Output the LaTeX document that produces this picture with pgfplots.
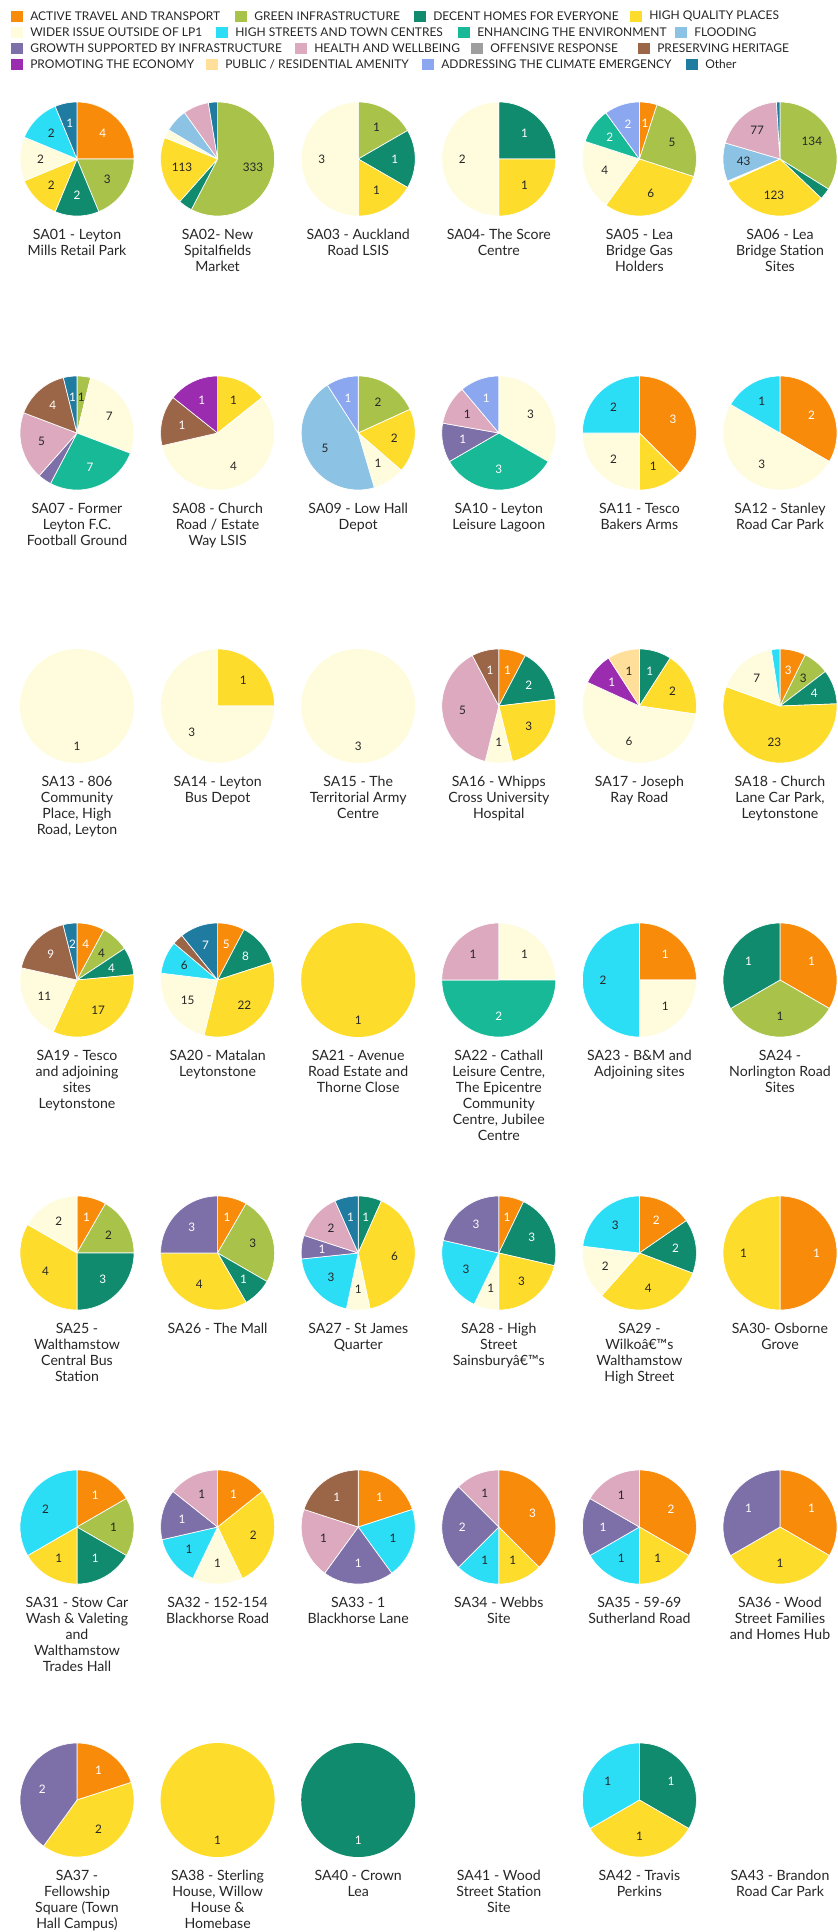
\documentclass[border=0pt]{standalone}
\usepackage{pgfplots}
\pgfplotsset{compat=1.18}
\usepackage{fontspec}
\setmainfont{Lato}

\definecolor{cAT}{HTML}{F98B0B}
\definecolor{cGI}{HTML}{A8C24A}
\definecolor{cDH}{HTML}{108B6E}
\definecolor{cHQ}{HTML}{FDDC2C}
\definecolor{cWI}{HTML}{FEFCDC}
\definecolor{cHS}{HTML}{2CDDF6}
\definecolor{cEE}{HTML}{17B997}
\definecolor{cFL}{HTML}{8CC2E3}
\definecolor{cGS}{HTML}{7D6FA7}
\definecolor{cHW}{HTML}{DCA9BF}
\definecolor{cOR}{HTML}{9E9E9E}
\definecolor{cPH}{HTML}{9B6548}
\definecolor{cPE}{HTML}{9B2CAF}
\definecolor{cPA}{HTML}{FFDF9A}
\definecolor{cCE}{HTML}{8BA7F0}
\definecolor{cOT}{HTML}{1F7BA0}
\definecolor{labc}{HTML}{262626}
\def\txtAT{white}\def\txtGI{labc}\def\txtDH{white}\def\txtHQ{labc}
\def\txtWI{labc}\def\txtHS{labc}\def\txtEE{white}\def\txtFL{labc}
\def\txtGS{white}\def\txtHW{labc}\def\txtOR{white}\def\txtPH{white}
\def\txtPE{white}\def\txtPA{labc}\def\txtCE{white}\def\txtOT{white}

\newcommand\numfont{\fontsize{8.8}{10}\selectfont}
\newcommand\labfont{\fontsize{10.6}{12}\selectfont}
\newcommand\legfont{\fontsize{9}{10}\selectfont}
\def\R{57}

% #1 = centre x, #2 = centre y, #3 = list key/value/showlabel
\newcommand\pie[3]{%
  \gdef\pietot{0}%
  \foreach \k/\v/\s in {#3}{\pgfmathparse{\pietot+\v}\xdef\pietot{\pgfmathresult}}%
  \gdef\piecum{0}%
  \foreach \k/\v/\s in {#3}{%
    \pgfmathsetmacro\aA{\piecum}%
    \pgfmathsetmacro\aB{\piecum+360*(\v/\pietot)}%
    \pgfmathsetmacro\aM{(\aA+\aB)/2}%
    \pgfmathsetmacro\lx{#1+0.64*\R*sin(\aM)}%
    \pgfmathsetmacro\ly{#2-0.64*\R*cos(\aM)}%
    \xdef\piecum{\aB}%
    \ifdim\v pt=\pietot pt
      \edef\temp{\noexpand\addplot[draw=none, fill=c\k, domain=0:360, samples=90] ({#1+\R*sin(x)},{#2-\R*cos(x)}) -- cycle;}%
      \pgfmathsetmacro\ly{#2+0.7*\R}%
    \else
      \edef\temp{\noexpand\addplot[draw=white, line width=0.5pt, line join=round, fill=c\k, domain=\aA:\aB, samples=45] ({#1+\R*sin(x)},{#2-\R*cos(x)}) -- (axis cs:#1,#2) -- cycle;}%
    \fi
    \temp
    \ifnum\s=1
      \edef\temp{\noexpand\node[font=\noexpand\numfont, text=\csname txt\k\endcsname, inner sep=0pt] at (axis cs:\lx,\ly) {\v};}%
      \temp
    \fi
  }%
}
\newcommand\lab[3]{\node[anchor=north, align=center, inner sep=0pt, font=\labfont, text=labc] at (axis cs:#1,#2) {#3};}
\newcommand\leg[4]{% x, y, colour, text
  \fill[#3] (axis cs:#1,#2-5.5) rectangle (axis cs:#1+12,#2+5.5);
  \node[anchor=west, inner sep=0pt, font=\legfont, text=labc] at (axis cs:#1+19,#2) {#4};}

\begin{document}
\begin{tikzpicture}
\begin{axis}[scale only axis, width=627.75pt, height=1449pt,
  xmin=0, xmax=837, ymin=0, ymax=1932, y dir=reverse,
  hide axis, clip=false]
\path (axis cs:0,0) rectangle (axis cs:837,1932);

% legend
\leg{11}{16}{cAT}{ACTIVE TRAVEL AND TRANSPORT}
\leg{235}{16}{cGI}{GREEN INFRASTRUCTURE}
\leg{414}{16}{cDH}{DECENT HOMES FOR EVERYONE}
\leg{630}{16}{cHQ}{HIGH QUALITY PLACES}
\leg{11}{32}{cWI}{WIDER ISSUE OUTSIDE OF LP1}
\leg{216}{32}{cHS}{HIGH STREETS AND TOWN CENTRES}
\leg{458}{32}{cEE}{ENHANCING THE ENVIRONMENT}
\leg{675}{32}{cFL}{FLOODING}
\leg{11}{48}{cGS}{GROWTH SUPPORTED BY INFRASTRUCTURE}
\leg{295}{48}{cHW}{HEALTH AND WELLBEING}
\leg{471}{48}{cOR}{OFFENSIVE RESPONSE}
\leg{638}{48}{cPH}{PRESERVING HERITAGE}
\leg{11}{64}{cPE}{PROMOTING THE ECONOMY}
\leg{206}{64}{cPA}{PUBLIC / RESIDENTIAL AMENITY}
\leg{422}{64}{cCE}{ADDRESSING THE CLIMATE EMERGENCY}
\leg{686}{64}{cOT}{Other}

% row 1
\pie{77}{159}{AT/4/1, GI/3/1, DH/2/1, HQ/2/1, WI/2/1, HS/2/1, OT/1/1}
\pie{217.6}{159}{GI/333/1, DH/23/0, HQ/113/1, WI/14/0, FL/38/0, HW/42/0, OT/15/0}
\pie{358.2}{159}{GI/1/1, DH/1/1, HQ/1/1, WI/3/1}
\pie{498.8}{159}{DH/1/1, HQ/1/1, WI/2/1}
\pie{639.4}{159}{AT/1/1, GI/5/1, HQ/6/1, WI/4/1, EE/2/1, CE/2/1}
\pie{780}{159}{GI/134/1, DH/13/0, HQ/123/1, WI/2/0, FL/43/1, HW/77/1, OT/4/0}
\lab{77}{229}{SA01 - Leyton\\Mills Retail Park}
\lab{217.6}{229}{SA02- New\\Spitalfields\\Market}
\lab{358.2}{229}{SA03 - Auckland\\Road LSIS}
\lab{498.8}{229}{SA04- The Score\\Centre}
\lab{639.4}{229}{SA05 - Lea\\Bridge Gas\\Holders}
\lab{780}{229}{SA06 - Lea\\Bridge Station\\Sites}

% row 2
\pie{77}{433}{GI/1/1, WI/7/1, EE/7/1, GS/1/0, HW/5/1, PH/4/1, OT/1/1}
\pie{217.6}{433}{HQ/1/1, WI/4/1, PH/1/1, PE/1/1}
\pie{358.2}{433}{GI/2/1, HQ/2/1, WI/1/1, FL/5/1, CE/1/1}
\pie{498.8}{433}{WI/3/1, EE/3/1, GS/1/1, HW/1/1, CE/1/1}
\pie{639.4}{433}{AT/3/1, HQ/1/1, WI/2/1, HS/2/1}
\pie{780}{433}{AT/2/1, WI/3/1, HS/1/1}
\lab{77}{503}{SA07 - Former\\Leyton F.C.\\Football Ground}
\lab{217.6}{503}{SA08 - Church\\Road / Estate\\Way LSIS}
\lab{358.2}{503}{SA09 - Low Hall\\Depot}
\lab{498.8}{503}{SA10 - Leyton\\Leisure Lagoon}
\lab{639.4}{503}{SA11 - Tesco\\Bakers Arms}
\lab{780}{503}{SA12 - Stanley\\Road Car Park}

% row 3
\pie{77}{706}{WI/1/1}
\pie{217.6}{706}{HQ/1/1, WI/3/1}
\pie{358.2}{706}{WI/3/1}
\pie{498.8}{706}{AT/1/1, DH/2/1, HQ/3/1, WI/1/1, HW/5/1, PH/1/1}
\pie{639.4}{706}{DH/1/1, HQ/2/1, WI/6/1, PE/1/1, PA/1/1}
\pie{780}{706}{AT/3/1, GI/3/1, DH/4/1, HQ/23/1, WI/7/1, HS/1/0}
\lab{77}{776}{SA13 - 806\\Community\\Place, High\\Road, Leyton}
\lab{217.6}{776}{SA14 - Leyton\\Bus Depot}
\lab{358.2}{776}{SA15 - The\\Territorial Army\\Centre}
\lab{498.8}{776}{SA16 - Whipps\\Cross University\\Hospital}
\lab{639.4}{776}{SA17 - Joseph\\Ray Road}
\lab{780}{776}{SA18 - Church\\Lane Car Park,\\Leytonstone}

% row 4
\pie{77}{980}{AT/4/1, GI/4/1, DH/4/1, HQ/17/1, WI/11/1, PH/9/1, OT/2/1}
\pie{217.6}{980}{AT/5/1, DH/8/1, HQ/22/1, WI/15/1, HS/6/1, PH/2/0, OT/7/1}
\pie{358.2}{980}{HQ/1/1}
\pie{498.8}{980}{WI/1/1, EE/2/1, HW/1/1}
\pie{639.4}{980}{AT/1/1, WI/1/1, HS/2/1}
\pie{780}{980}{AT/1/1, GI/1/1, DH/1/1}
\lab{77}{1050}{SA19 - Tesco\\and adjoining\\sites\\Leytonstone}
\lab{217.6}{1050}{SA20 - Matalan\\Leytonstone}
\lab{358.2}{1050}{SA21 - Avenue\\Road Estate and\\Thorne Close}
\lab{498.8}{1050}{SA22 - Cathall\\Leisure Centre,\\The Epicentre\\Community\\Centre, Jubilee\\Centre}
\lab{639.4}{1050}{SA23 - B\&M and\\Adjoining sites}
\lab{780}{1050}{SA24 -\\Norlington Road\\Sites}

% row 5
\pie{77}{1253}{AT/1/1, GI/2/1, DH/3/1, HQ/4/1, WI/2/1}
\pie{217.6}{1253}{AT/1/1, GI/3/1, DH/1/1, HQ/4/1, GS/3/1}
\pie{358.2}{1253}{DH/1/1, HQ/6/1, WI/1/1, HS/3/1, GS/1/1, HW/2/1, OT/1/1}
\pie{498.8}{1253}{AT/1/1, DH/3/1, HQ/3/1, WI/1/1, HS/3/1, GS/3/1}
\pie{639.4}{1253}{AT/2/1, DH/2/1, HQ/4/1, WI/2/1, HS/3/1}
\pie{780}{1253}{AT/1/1, HQ/1/1}
\lab{77}{1323}{SA25 -\\Walthamstow\\Central Bus\\Station}
\lab{217.6}{1323}{SA26 - The Mall}
\lab{358.2}{1323}{SA27 - St James\\Quarter}
\lab{498.8}{1323}{SA28 - High\\Street\\Sainsburyâ€™s}
\lab{639.4}{1323}{SA29 -\\Wilkoâ€™s\\Walthamstow\\High Street}
\lab{780}{1323}{SA30- Osborne\\Grove}

% row 6
\pie{77}{1527}{AT/1/1, GI/1/1, DH/1/1, HQ/1/1, HS/2/1}
\pie{217.6}{1527}{AT/1/1, HQ/2/1, WI/1/1, HS/1/1, GS/1/1, HW/1/1}
\pie{358.2}{1527}{AT/1/1, HS/1/1, GS/1/1, HW/1/1, PH/1/1}
\pie{498.8}{1527}{AT/3/1, HQ/1/1, HS/1/1, GS/2/1, HW/1/1}
\pie{639.4}{1527}{AT/2/1, HQ/1/1, HS/1/1, GS/1/1, HW/1/1}
\pie{780}{1527}{AT/1/1, HQ/1/1, GS/1/1}
\lab{77}{1597}{SA31 - Stow Car\\Wash \& Valeting\\and\\Walthamstow\\Trades Hall}
\lab{217.6}{1597}{SA32 - 152-154\\Blackhorse Road}
\lab{358.2}{1597}{SA33 - 1\\Blackhorse Lane}
\lab{498.8}{1597}{SA34 - Webbs\\Site}
\lab{639.4}{1597}{SA35 - 59-69\\Sutherland Road}
\lab{780}{1597}{SA36 - Wood\\Street Families\\and Homes Hub}

% row 7
\pie{77}{1800}{AT/1/1, HQ/2/1, GS/2/1}
\pie{217.6}{1800}{HQ/1/1}
\pie{358.2}{1800}{DH/1/1}
\pie{639.4}{1800}{DH/1/1, HQ/1/1, HS/1/1}
\lab{77}{1870}{SA37 -\\Fellowship\\Square (Town\\Hall Campus)}
\lab{217.6}{1870}{SA38 - Sterling\\House, Willow\\House \&\\Homebase}
\lab{358.2}{1870}{SA40 - Crown\\Lea}
\lab{498.8}{1870}{SA41 - Wood\\Street Station\\Site}
\lab{639.4}{1870}{SA42 - Travis\\Perkins}
\lab{780}{1870}{SA43 - Brandon\\Road Car Park}
\end{axis}
\end{tikzpicture}
\end{document}
